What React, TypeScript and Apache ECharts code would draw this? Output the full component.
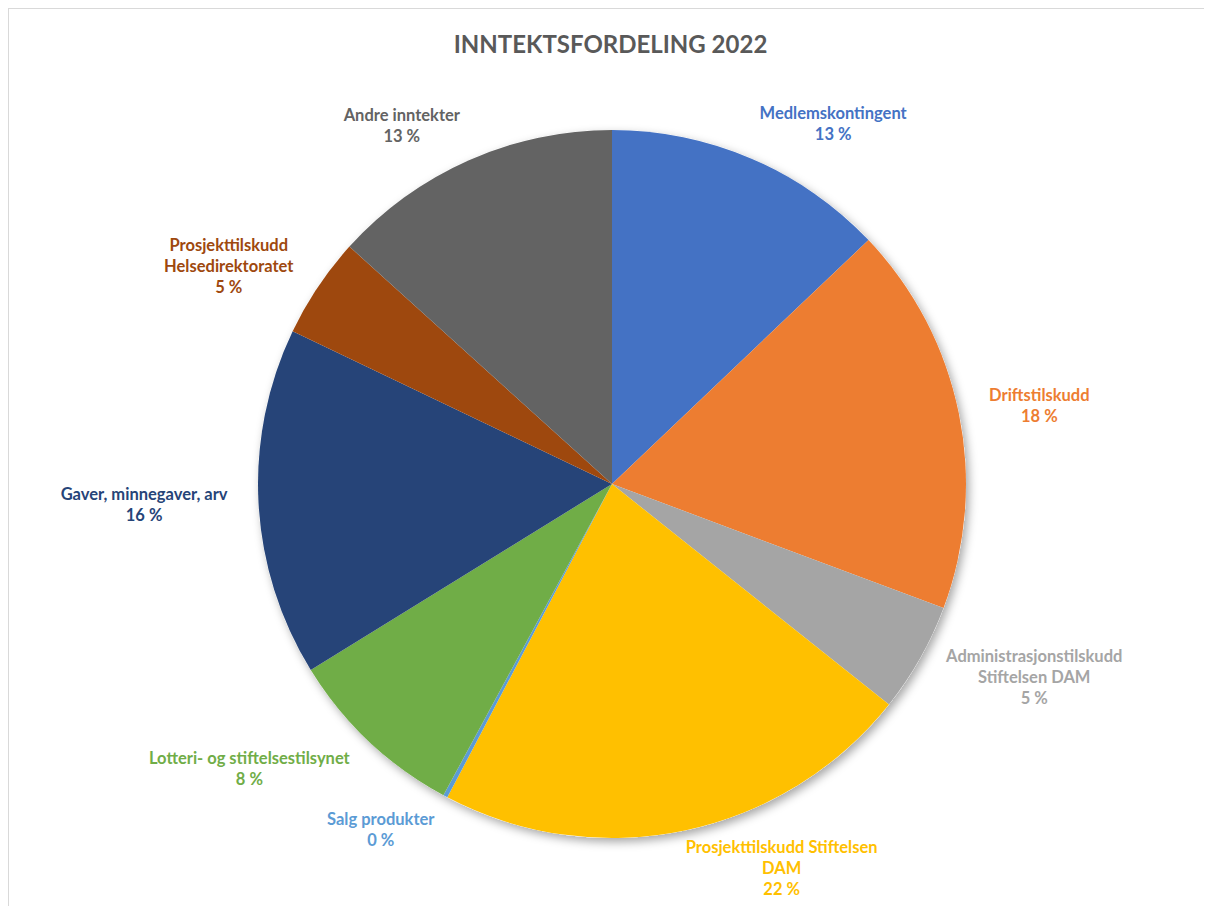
import React, { useEffect, useRef } from "react";
import * as echarts from "echarts";

const title = "INNTEKTSFORDELING 2022";
const categories = [
  "Medlemskontingent",
  "Driftstilskudd",
  "Administrasjonstilskudd\nStiftelsen DAM",
  "Prosjekttilskudd Stiftelsen\nDAM",
  "Salg produkter",
  "Lotteri- og stiftelsestilsynet",
  "Gaver, minnegaver, arv",
  "Prosjekttilskudd\nHelsedirektoratet",
  "Andre inntekter",
];
const shares = [12.9, 17.8, 5.0, 22.0, 0.2, 8.3, 15.9, 4.6, 13.3];
const colors = [
  "#4472C4",
  "#ED7D31",
  "#A5A5A5",
  "#FFC000",
  "#5B9BD5",
  "#70AD47",
  "#264478",
  "#9E480E",
  "#636363",
];

const FONT = "Lato, 'Open Sans', sans-serif";

export default function App() {
  const ref = useRef<HTMLDivElement>(null);
  useEffect(() => {
    document.body.style.overflow = "hidden";
    const chart = echarts.init(ref.current!, undefined, { renderer: "svg" });
    const data = categories.map((name, i) => ({
      name,
      value: shares[i],
      itemStyle: { color: colors[i] },
      label: { color: colors[i] },
    }));
    chart.setOption({
      animation: false,
      backgroundColor: "#ffffff",
      title: {
        text: title,
        left: "center",
        top: 17,
        textStyle: {
          fontFamily: FONT,
          fontSize: 24,
          fontWeight: "bold",
          color: "#595959",
        },
      },
      series: [
        {
          type: "pie",
          silent: true,
          center: [603, 475],
          radius: 354,
          z: 1,
          label: { show: false },
          labelLine: { show: false },
          data: [
            {
              value: 1,
              name: "",
              itemStyle: {
                color: "#ffffff",
                shadowBlur: 10,
                shadowColor: "rgba(0,0,0,0.35)",
                shadowOffsetX: 3,
                shadowOffsetY: 4,
              },
            },
          ],
        },
        {
          type: "pie",
          center: [603, 475],
          radius: 354,
          startAngle: 90,
          clockwise: true,
          z: 2,
          avoidLabelOverlap: true,
          itemStyle: { borderWidth: 0 },
          label: {
            show: true,
            position: "outside",
            fontFamily: FONT,
            fontSize: 16.5,
            fontWeight: "bold",
            lineHeight: 21,
            formatter: (p: any) => `${p.name}\n${Math.round(p.percent)} %`,
          },
          labelLine: { show: false, length: 38, length2: 0 },
          labelLayout: (p: any) => {
            const r = p.labelRect;
            const shift = p.align === "right" ? 12 : -12;
            return {
              x: r.x + r.width / 2 + shift,
              y: r.y + r.height / 2,
              align: "center",
              verticalAlign: "middle",
            };
          },
          data,
        },
      ],
    });
    return () => chart.dispose();
  }, []);
  return (
    <div
      style={{
        width: 1204,
        height: 898,
        borderTop: "1px solid #d9d9d9",
        borderLeft: "1px solid #d9d9d9",
        boxSizing: "border-box",
      }}
    >
      <div ref={ref} style={{ width: 1203, height: 897 }} />
    </div>
  );
}
